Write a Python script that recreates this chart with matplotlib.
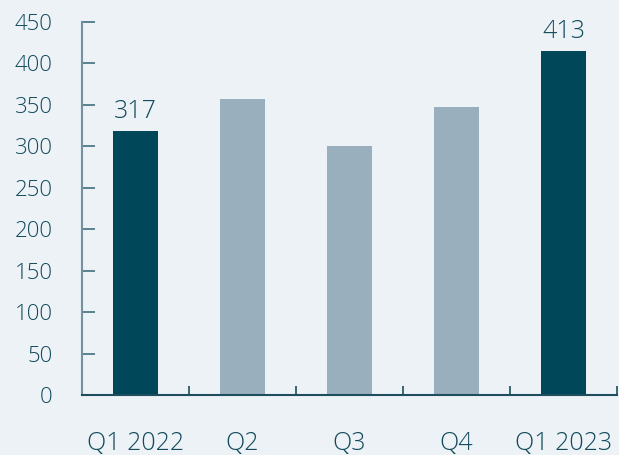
import matplotlib
matplotlib.use("Agg")
import matplotlib.pyplot as plt
import numpy as np

categories = ["Q1 2022", "Q2", "Q3", "Q4", "Q1 2023"]
values = [319, 357, 301, 348, 415]
labels = ["317", "", "", "", "413"]
highlight = [True, False, False, False, True]

bg = "#EDF2F7"
dark = "#00475A"
light = "#9AAFBD"
text_c = "#124A5C"

plt.rcParams['font.family'] = ['Open Sans', 'DejaVu Sans']
plt.rcParams['font.weight'] = 'light'

fig = plt.figure(figsize=(6.19, 4.55), dpi=100, facecolor=bg)
ax = fig.add_axes([82/619, (455-395)/455, 535/619, (395-22)/455])
ax.set_facecolor(bg)

x = np.arange(len(categories))
colors = [dark if h else light for h in highlight]
ax.bar(x, values, width=0.42, color=colors, zorder=2)

for xi, v, lab in zip(x, values, labels):
    if lab:
        ax.text(xi, v + 8, lab, ha="center", va="bottom", fontsize=18, color=text_c)

ax.set_xlim(-0.5, len(categories) - 0.5)
ax.set_ylim(0, 450)
ax.set_yticks(np.arange(0, 451, 50))
ax.set_xticks(x)
ax.set_xticklabels(categories)
ax.set_xticks(np.arange(0.5, len(categories), 1.0), minor=True)

for s in ["top", "right"]:
    ax.spines[s].set_visible(False)
ax.spines["left"].set_color("#6F929E")
ax.spines["left"].set_linewidth(1.5)
ax.spines["bottom"].set_color("#1E4E5E")
ax.spines["bottom"].set_linewidth(1.5)

ax.tick_params(axis="y", direction="in", length=9.5, width=1.2, color="#3F6F7E",
               labelsize=16, labelcolor=text_c, pad=21)
ax.tick_params(axis="x", which="major", length=0, labelsize=18, labelcolor=text_c, pad=26)
ax.tick_params(axis="x", which="minor", direction="in", length=6.5, width=1.2, color="#1E4E5E")

fig.savefig("out.png", dpi=100, facecolor=bg)
